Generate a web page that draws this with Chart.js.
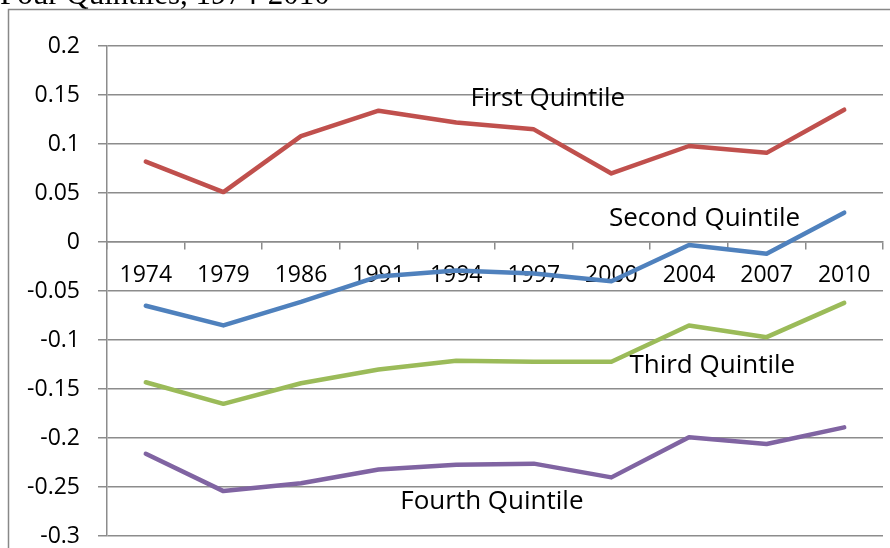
<!DOCTYPE html>
<html>
<head>
<meta charset="utf-8">
<script src="https://cdn.jsdelivr.net/npm/chart.js@4"></script>
<style>
  html, body { margin: 0; padding: 0; background: #fff; overflow: hidden; }
  #wrap { width: 890px; height: 548px; position: relative; overflow: hidden; }
</style>
</head>
<body>
<div id="wrap"><canvas id="myChart" width="890" height="568"></canvas></div>
<script>
const years = ['1974', '1979', '1986', '1991', '1994', '1997', '2000', '2004', '2007', '2010'];
const firstQuintile = [0.082, 0.051, 0.108, 0.134, 0.122, 0.115, 0.070, 0.098, 0.091, 0.135];
const secondQuintile = [-0.065, -0.085, -0.061, -0.035, -0.029, -0.032, -0.040, -0.003, -0.012, 0.030];
const thirdQuintile = [-0.143, -0.165, -0.144, -0.130, -0.121, -0.122, -0.122, -0.085, -0.097, -0.062];
const fourthQuintile = [-0.216, -0.254, -0.246, -0.232, -0.227, -0.226, -0.240, -0.199, -0.206, -0.189];
const yTicks = [0.2, 0.15, 0.1, 0.05, 0, -0.05, -0.1, -0.15, -0.2, -0.25, -0.3];

// series labels placed next to the lines (category index, value)
const seriesLabels = [
    { text: 'First Quintile', x: 5.18, y: 0.146 },
    { text: 'Second Quintile', x: 7.2, y: 0.0235 },
    { text: 'Third Quintile', x: 7.3, y: -0.126 },
    { text: 'Fourth Quintile', x: 4.46, y: -0.265 }
];

const gridGray = '#8c8c8c';
const fontFamily = '"Open Sans", Lato, sans-serif';

// frame, cut-off title and line labels
const decorations = {
    id: 'decorations',
    beforeDraw(chart) {
        const ctx = chart.ctx;
        ctx.save();
        ctx.fillStyle = '#fff';
        ctx.fillRect(0, 0, chart.width, chart.height);
        ctx.fillStyle = '#000';
        ctx.font = '31px "Liberation Serif", serif';
        ctx.textBaseline = 'alphabetic';
        ctx.textAlign = 'left';
        ctx.fillText('Four Quintiles, 1974-2010', 0, 4);
        ctx.strokeStyle = '#888';
        ctx.lineWidth = 1.5;
        ctx.beginPath();
        ctx.moveTo(8.5, chart.height);
        ctx.lineTo(8.5, 9.5);
        ctx.lineTo(chart.width, 9.5);
        ctx.stroke();
        ctx.restore();
    },
    afterDatasetsDraw(chart) {
        const ctx = chart.ctx;
        const xs = chart.scales.x, ys = chart.scales.y;
        const step = (xs.right - xs.left) / years.length;
        ctx.save();
        ctx.fillStyle = '#000';
        ctx.font = '26px ' + fontFamily;
        ctx.textAlign = 'center';
        ctx.textBaseline = 'middle';
        seriesLabels.forEach(l => {
            ctx.fillText(l.text, xs.left + step * (l.x + 0.5), ys.getPixelForValue(l.y));
        });
        ctx.restore();
    }
};

const ds = (label, data, color) => ({
    label: label,
    data: data,
    borderColor: color,
    backgroundColor: color,
    borderWidth: 4.5,
    pointRadius: 0,
    tension: 0,
    borderJoinStyle: 'round',
    borderCapStyle: 'round'
});

new Chart(document.getElementById('myChart').getContext('2d'), {
    type: 'line',
    data: {
        labels: years,
        datasets: [
            ds('First Quintile', firstQuintile, '#c0504d'),
            ds('Second Quintile', secondQuintile, '#4f81bd'),
            ds('Third Quintile', thirdQuintile, '#9bbb59'),
            ds('Fourth Quintile', fourthQuintile, '#8064a2')
        ]
    },
    options: {
        responsive: false,
        animation: false,
        layout: { padding: { top: 46, bottom: 12, right: 7, left: 0 } },
        plugins: {
            legend: { display: false },
            tooltip: { enabled: false }
        },
        scales: {
            x: {
                position: { y: 0 },
                offset: true,
                grid: {
                    offset: true,
                    drawOnChartArea: false,
                    color: gridGray,
                    lineWidth: 1.5,
                    tickLength: 7
                },
                border: { display: true, color: gridGray, width: 1.5 },
                ticks: {
                    color: '#000',
                    font: { family: fontFamily, size: 23 },
                    padding: 13,
                    maxRotation: 0,
                    autoSkip: false
                }
            },
            y: {
                min: -0.3,
                max: 0.2,
                afterBuildTicks: scale => { scale.ticks = yTicks.map(v => ({ value: v })); },
                afterFit: scale => { scale.width = 107; },
                grid: {
                    color: gridGray,
                    lineWidth: 1.5,
                    tickLength: 9
                },
                border: { display: true, color: gridGray, width: 1.5 },
                ticks: {
                    color: '#000',
                    font: { family: fontFamily, size: 23 },
                    padding: 18,
                    callback: v => String(Math.round(v * 100) / 100)
                }
            }
        }
    },
    plugins: [decorations]
});
</script>
</body>
</html>
